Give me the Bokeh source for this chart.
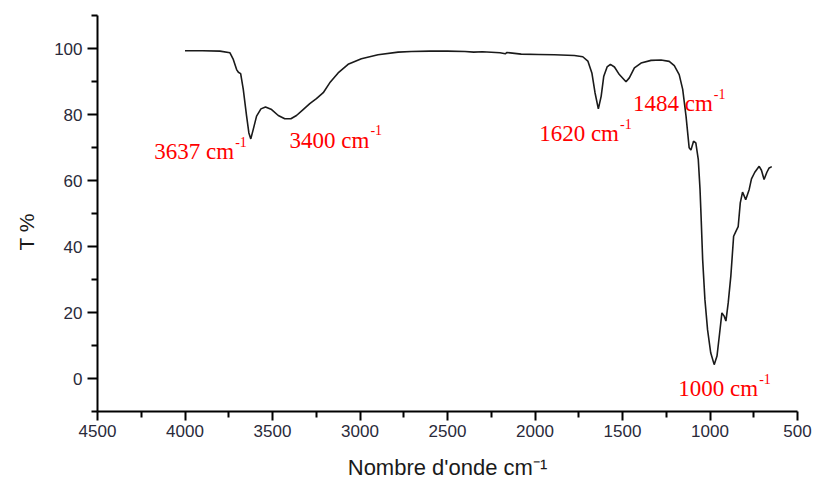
from bokeh.plotting import figure
from bokeh.models import Range1d, FixedTicker, Label, Title
from bokeh.embed import file_html
from bokeh.resources import INLINE

# ---- data ----
wavenumber = [4000, 3900, 3800, 3743, 3724, 3705, 3695, 3682, 3667, 3648, 3635, 3624, 3610, 3591,
              3566, 3540, 3505, 3467, 3430, 3395, 3363, 3325, 3287, 3249, 3210, 3173, 3125, 3068,
              2992, 2897, 2782, 2707, 2600, 2500, 2400, 2350, 2300, 2200, 2170, 2160, 2079, 1980,
              1889, 1775, 1727, 1698, 1675, 1657, 1638, 1622, 1607, 1588, 1569, 1546, 1518, 1480,
              1461, 1432, 1394, 1337, 1280, 1233, 1204, 1176, 1156, 1137, 1119, 1109, 1094, 1081,
              1067, 1057, 1051, 1042, 1029, 1014, 996, 976, 960, 947, 932, 919, 909, 896, 881,
              865, 852, 839, 827, 814, 796, 776, 763, 744, 719, 706, 691, 675, 662, 647]
transmittance = [99.3, 99.3, 99.2, 98.7, 96.7, 93.6, 92.8, 92.4, 87.6, 79.5, 74.4, 72.6, 75.5, 79.5,
                 81.7, 82.3, 81.5, 79.7, 78.7, 78.7, 79.7, 81.5, 83.3, 84.8, 86.6, 89.6, 92.6, 95.2,
                 96.9, 98.1, 98.9, 99.1, 99.2, 99.2, 99.1, 98.9, 99.0, 98.7, 98.4, 98.8, 98.3, 98.2,
                 98.1, 97.9, 97.5, 96.2, 92.6, 86.6, 81.7, 85.5, 91.6, 94.4, 95.2, 94.4, 92.1, 89.9,
                 91.1, 94.1, 95.6, 96.4, 96.5, 96.1, 94.8, 92.1, 87.6, 79.5, 69.9, 69.2, 71.9, 71.4,
                 66.4, 57.3, 49.2, 36.1, 23.9, 14.8, 7.8, 4.2, 6.8, 12.8, 19.9, 18.9, 17.4, 22.9, 31.0,
                 43.1, 44.6, 46.0, 53.2, 56.5, 54.2, 57.3, 60.5, 62.5, 64.3, 63.1, 60.3, 62.5, 63.8, 64.2]

x_major_ticks = [4500, 4000, 3500, 3000, 2500, 2000, 1500, 1000, 500]
x_minor_ticks = [4250, 3750, 3250, 2750, 2250, 1750, 1250, 750]
y_major_ticks = [0, 20, 40, 60, 80, 100]
y_minor_ticks = [-10, 10, 30, 50, 70, 90, 110]

peak_labels = ["3637 cm", "3400 cm", "1620 cm", "1484 cm", "1000 cm"]
peak_label_x = [3719, 2946, 1520, 984, 725]
peak_label_y = [68.7, 72.2, 74.2, 83.3, -3.05]

x_title = "Nombre d'onde cm\u207b\u00b9"
y_title = "T %"

# ---- figure ----
p = figure(width=813, height=482, x_range=Range1d(4500, 500), y_range=Range1d(-10, 110),
           output_backend="svg", toolbar_location=None,
           min_border_left=96, min_border_right=16, min_border_top=15, min_border_bottom=71)
p.outline_line_color = None
p.xgrid.visible = False
p.ygrid.visible = False
p.background_fill_color = "white"
p.border_fill_color = "white"

p.line(wavenumber, transmittance, line_color="#1a1a1a", line_width=1.6)

for ax in (p.xaxis, p.yaxis):
    ax.axis_line_width = 2
    ax.axis_line_color = "black"
    ax.major_tick_line_width = 2
    ax.minor_tick_line_width = 2
    ax.major_tick_line_color = "black"
    ax.minor_tick_line_color = "black"
    ax.major_tick_in = 0
    ax.minor_tick_in = 0
    ax.major_label_text_font = "Liberation Sans"
    ax.major_label_text_font_size = "17px"
    ax.major_label_text_color = "#2a2a3a"

p.xaxis.ticker = FixedTicker(ticks=x_major_ticks, minor_ticks=x_minor_ticks)
p.yaxis.ticker = FixedTicker(ticks=y_major_ticks, minor_ticks=y_minor_ticks)
p.xaxis.major_tick_out = 9
p.xaxis.minor_tick_out = 6
p.yaxis.major_tick_out = 10
p.yaxis.minor_tick_out = 6
p.xaxis.major_label_standoff = 4
p.yaxis.major_label_standoff = 5

p.xaxis.axis_label = x_title
p.xaxis.axis_label_text_font = "Liberation Sans"
p.xaxis.axis_label_text_font_size = "22px"
p.xaxis.axis_label_text_font_style = "normal"
p.xaxis.axis_label_text_color = "#1a1a1a"
p.xaxis.axis_label_standoff = 15

# y title as a side title so it can be shifted along the axis
p.add_layout(Title(text=y_title, align="left", offset=161, standoff=26, vertical_align="middle",
                   text_font="Liberation Sans", text_font_size="21px",
                   text_font_style="normal", text_color="#1a1a1a"), "left")

# peak annotations with superscript -1
for txt, lx, ly in zip(peak_labels, peak_label_x, peak_label_y):
    p.add_layout(Label(x=lx, y=ly, text=txt, text_align="right", text_baseline="alphabetic",
                       text_font="Liberation Serif", text_font_size="23px", text_color="#ff0000"))
    p.add_layout(Label(x=lx, y=ly + 3.0, text="-1", text_align="left", text_baseline="alphabetic",
                       x_offset=1, text_font="Liberation Serif", text_font_size="14px",
                       text_color="#ff0000"))

open("out.html", "w").write(file_html(p, INLINE))
